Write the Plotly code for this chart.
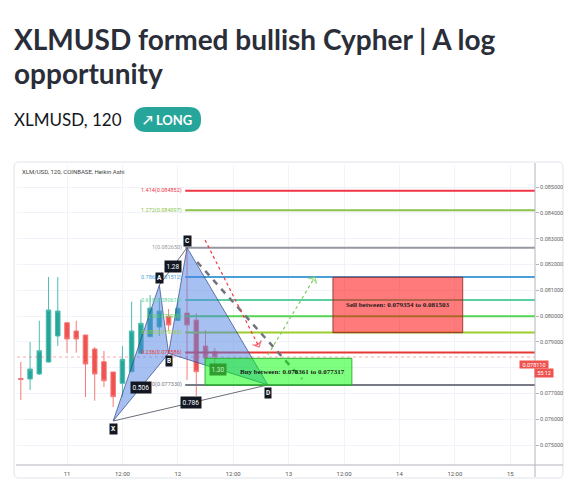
import plotly.graph_objects as go

W, H = 567, 494

# ---------------- data ----------------
candle_hours = [-10, -8, -6, -4, -2, 0, 2, 4, 6, 8, 10, 12, 14, 16, 18, 20, 22, 24, 26, 28, 30, 32]
opens = [0.077578, 0.077558, 0.077752, 0.078217, 0.079225, 0.079740, 0.079419, 0.079264, 0.078721, 0.078229, 0.077830,
         0.077391, 0.077841, 0.078554, 0.079198, 0.079574, 0.079981, 0.079826, 0.080116, 0.079845, 0.078837, 0.078616]
highs = [0.078217, 0.078992, 0.079818, 0.081512, 0.081512, 0.079767, 0.079818, 0.079264, 0.078798, 0.078643, 0.077830,
         0.078837, 0.080554, 0.080620, 0.080814, 0.080698, 0.080271, 0.080698, 0.082597, 0.080116, 0.079457, 0.078760]
lows = [0.076744, 0.077132, 0.077713, 0.078198, 0.078837, 0.078566, 0.078578, 0.076860, 0.076717, 0.077248, 0.076473,
        0.076872, 0.077841, 0.078554, 0.079198, 0.079225, 0.079419, 0.079826, 0.077520, 0.076899, 0.078178, 0.078101]
closes = [0.077539, 0.077946, 0.078655, 0.080233, 0.080194, 0.079109, 0.079109, 0.078140, 0.077752, 0.077492, 0.076872,
          0.078322, 0.079419, 0.079717, 0.080310, 0.080194, 0.079651, 0.080298, 0.079651, 0.077841, 0.078372, 0.078411]

x_tick_vals = [0, 12, 24, 36, 48, 60, 72, 84, 96]
x_tick_text = ["11", "12:00", "12", "12:00", "13", "12:00", "14", "12:00", "15"]
price_tick_vals = [0.075, 0.076, 0.077, 0.078, 0.079, 0.080, 0.081, 0.082, 0.083, 0.084, 0.085]
price_tick_text = ["0.075000", "0.076000", "0.077000", "", "0.079000", "0.080000", "0.081000",
                   "0.082000", "0.083000", "0.084000", "0.085000"]
x_range = [-10.83, 101.36]
y_range = [0.074225, 0.085853]

pattern_names = ["X", "A", "B", "C", "D"]
pattern_hours = [10.0, 20.0, 22.0, 26.0, 43.5]
pattern_prices = [0.07593, 0.08120, 0.07855, 0.08265, 0.07733]
ratio_labels = ["0.506", "1.28", "0.786", "1.30"]

fib_ratios = [1.414, 1.272, 1, 0.786, 0.618, 0.5, 0.382, 0.236, 0]
fib_prices = [0.084852, 0.084097, 0.082650, 0.081512, 0.080618, 0.079990, 0.079363, 0.078586, 0.077330]
fib_colors = ["#f23645", "#8bc34a", "#9598a1", "#4a9fd6", "#5ccfa0", "#55d455", "#9ccc2d", "#e53935", "#787b86"]
fib_start_hour = 25.6

buy_box_hours = [29.9, 61.7]
buy_box_prices = [0.077317, 0.078361]
sell_box_hours = [57.6, 85.7]
sell_box_prices = [0.079354, 0.081503]

red_arrow_hours = [29.9, 41.6]
red_arrow_prices = [0.082946, 0.078800]
gray_dash_hours = [28.2, 50.9]
gray_dash_prices = [0.082093, 0.077558]
green_arrow_hours = [43.5, 53.7]
green_arrow_prices = [0.078488, 0.081512]

current_price = 0.078110
countdown = "55:12"

# ---------------- helpers ----------------
def px(v):
    return v / W


def py(v):
    return 1 - v / H


def rrect(x0, y0, x1, y1, r):
    return (f"M{px(x0 + r)},{py(y0)} L{px(x1 - r)},{py(y0)} Q{px(x1)},{py(y0)} {px(x1)},{py(y0 + r)} "
            f"L{px(x1)},{py(y1 - r)} Q{px(x1)},{py(y1)} {px(x1 - r)},{py(y1)} L{px(x0 + r)},{py(y1)} "
            f"Q{px(x0)},{py(y1)} {px(x0)},{py(y1 - r)} L{px(x0)},{py(y0 + r)} Q{px(x0)},{py(y0)} {px(x0 + r)},{py(y0)} Z")


P = dict(zip(pattern_names, zip(pattern_hours, pattern_prices)))

fig = go.Figure()

# candles
fig.add_trace(go.Candlestick(
    x=candle_hours, open=opens, high=highs, low=lows, close=closes,
    increasing=dict(line=dict(color="#4fbcb0", width=1), fillcolor="#26a69a"),
    decreasing=dict(line=dict(color="#f57a78", width=1), fillcolor="#ef5350"),
    whiskerwidth=0, showlegend=False, hoverinfo="skip"))

# current price line (last close)
fig.add_trace(go.Scatter(x=x_range, y=[closes[-1], closes[-1]], mode="lines",
                         line=dict(color="rgba(242,54,69,0.28)", width=1.5, dash="dot"),
                         hoverinfo="skip", showlegend=False))

# fib lines
for r, p, c in zip(fib_ratios, fib_prices, fib_colors):
    fig.add_trace(go.Scatter(x=[fib_start_hour, x_range[1]], y=[p, p], mode="lines",
                             line=dict(color=c, width=2), hoverinfo="skip", showlegend=False))

# pattern triangles
tri_fill = "rgba(80,130,230,0.5)"
tri_line = "rgba(50,70,130,0.7)"
for a, b, c in [("X", "A", "B"), ("B", "C", "D")]:
    fig.add_trace(go.Scatter(x=[P[a][0], P[b][0], P[c][0], P[a][0]],
                             y=[P[a][1], P[b][1], P[c][1], P[a][1]],
                             mode="lines", fill="toself", fillcolor=tri_fill,
                             line=dict(color=tri_line, width=1), hoverinfo="skip", showlegend=False))
for a, b in [("A", "C"), ("X", "D")]:
    fig.add_trace(go.Scatter(x=[P[a][0], P[b][0]], y=[P[a][1], P[b][1]], mode="lines",
                             line=dict(color="#6a6d78", width=1), hoverinfo="skip", showlegend=False))

# dashed projections
fig.add_trace(go.Scatter(x=gray_dash_hours, y=gray_dash_prices, mode="lines",
                         line=dict(color="#70737e", width=2.5, dash="6px,6px"),
                         hoverinfo="skip", showlegend=False))
fig.add_trace(go.Scatter(x=red_arrow_hours, y=red_arrow_prices, mode="lines+markers",
                         line=dict(color="#f23645", width=1.2, dash="3px,3px"),
                         marker=dict(symbol=["circle", "arrow-wide-open"], size=[0, 7], angleref="previous",
                                     color="#f23645", line=dict(color="#f23645", width=1.2)),
                         hoverinfo="skip", showlegend=False))
fig.add_trace(go.Scatter(x=green_arrow_hours, y=green_arrow_prices, mode="lines+markers",
                         line=dict(color="#7ccd5a", width=1.2, dash="3px,3px"),
                         marker=dict(symbol=["circle", "arrow-wide-open"], size=[0, 7], angleref="previous",
                                     color="#7ccd5a", line=dict(color="#7ccd5a", width=1.2)),
                         hoverinfo="skip", showlegend=False))

shapes = []
# card border
shapes.append(dict(type="path", xref="paper", yref="paper", path=rrect(14, 162, 563, 478, 5),
                   line=dict(color="#e0e3eb", width=1), fillcolor="rgba(0,0,0,0)", layer="below"))
# axis lines
shapes.append(dict(type="line", xref="paper", yref="paper", x0=px(16), x1=px(563), y0=py(465), y1=py(465),
                   line=dict(color="#b2b5be", width=1)))
shapes.append(dict(type="line", xref="paper", yref="paper", x0=px(535), x1=px(535), y0=py(163), y1=py(477),
                   line=dict(color="#b2b5be", width=1)))
# trade boxes
shapes.append(dict(type="rect", xref="x", yref="y", x0=buy_box_hours[0], x1=buy_box_hours[1],
                   y0=buy_box_prices[0], y1=buy_box_prices[1], fillcolor="rgba(0,255,0,0.5)",
                   line=dict(color="rgba(40,170,40,0.9)", width=1), layer="above"))
shapes.append(dict(type="rect", xref="x", yref="y", x0=sell_box_hours[0], x1=sell_box_hours[1],
                   y0=sell_box_prices[0], y1=sell_box_prices[1], fillcolor="rgba(255,0,0,0.52)",
                   line=dict(color="rgba(150,50,50,0.9)", width=1), layer="above"))
# badge
shapes.append(dict(type="path", xref="paper", yref="paper", path=rrect(134, 107, 201, 132, 12),
                   fillcolor="#26a69a", line=dict(width=0)))

ann = []
# header texts
ann.append(dict(xref="paper", yref="paper", x=px(12), y=py(39), xanchor="left", yanchor="middle",
                text="<b>XLMUSD formed bullish Cypher | A log</b>", showarrow=False,
                font=dict(family="Lato", size=28, color="#2a2e39")))
ann.append(dict(xref="paper", yref="paper", x=px(12), y=py(73), xanchor="left", yanchor="middle",
                text="<b>opportunity</b>", showarrow=False,
                font=dict(family="Lato", size=28, color="#2a2e39")))
ann.append(dict(xref="paper", yref="paper", x=px(12), y=py(120), xanchor="left", yanchor="middle",
                text="XLMUSD, 120", showarrow=False,
                font=dict(family="Lato", size=17, color="#131722")))
ann.append(dict(xref="paper", yref="paper", x=px(167.5), y=py(120), xanchor="center", yanchor="middle",
                text="<b>↗ LONG</b>", showarrow=False,
                font=dict(family="Lato", size=13, color="white")))
ann.append(dict(xref="paper", yref="paper", x=px(20), y=py(172), xanchor="left", yanchor="middle",
                text="XLM/USD, 120, COINBASE, Heikin Ashi", showarrow=False,
                font=dict(family="Roboto", size=6, color="#444")))

# fib labels
for r, p, c in zip(fib_ratios, fib_prices, fib_colors):
    ann.append(dict(xref="x", yref="y", x=fib_start_hour, y=p, xanchor="right", yanchor="middle",
                    text=f"{r:g}({p:.6f})", showarrow=False, xshift=-1,
                    font=dict(family="Roboto", size=5.5, color=c)))

# pattern point labels
for n in pattern_names:
    below = n in ("X", "B", "D")
    ann.append(dict(xref="x", yref="y", x=P[n][0], y=P[n][1], text=f"<b>{n}</b>", showarrow=False,
                    yshift=-8 if below else 7, bgcolor="#131722", borderpad=1,
                    font=dict(family="Roboto", size=6.5, color="white")))

# ratio labels on pattern legs
legs = [("X", "B"), ("A", "C"), ("X", "D"), ("B", "D")]
for (a, b), t in zip(legs, ratio_labels):
    mx = (P[a][0] + P[b][0]) / 2
    my = (P[a][1] + P[b][1]) / 2
    on_box = (a, b) == ("B", "D")
    ann.append(dict(xref="x", yref="y", x=mx, y=my, text=t, showarrow=False,
                    bgcolor="#2f9e2f" if on_box else "#131722", borderpad=1.5,
                    font=dict(family="Roboto", size=6.5, color="#c6f5c6" if on_box else "white")))

# box texts
ann.append(dict(xref="x", yref="y", x=(buy_box_hours[0] + buy_box_hours[1]) / 2 + 3.0,
                y=sum(buy_box_prices) / 2, showarrow=False,
                text=f"<b>Buy between: {buy_box_prices[1]:.6f} to {buy_box_prices[0]:.6f}</b>",
                font=dict(family="Liberation Serif", size=7, color="#1b1b1b")))
ann.append(dict(xref="x", yref="y", x=sum(sell_box_hours) / 2, y=sum(sell_box_prices) / 2, showarrow=False,
                text=f"<b>Sell between: {sell_box_prices[0]:.6f} to {sell_box_prices[1]:.6f}</b>",
                font=dict(family="Liberation Serif", size=7, color="#1b1b1b")))

# current price label
ann.append(dict(xref="paper", yref="y", x=px(549), y=current_price, showarrow=False, width=28, height=7,
                bgcolor="#ef5350", text=f"{current_price:.6f}", borderpad=0,
                font=dict(family="Roboto", size=5.5, color="white")))
ann.append(dict(xref="paper", yref="y", x=px(554), y=current_price, showarrow=False, width=18, height=8,
                yshift=-8, bgcolor="#ef5350", text=countdown, borderpad=0,
                font=dict(family="Roboto", size=5.5, color="white")))

fig.update_layout(
    width=W, height=H, margin=dict(l=0, r=0, t=0, b=0, pad=0),
    paper_bgcolor="white", plot_bgcolor="white", showlegend=False,
    shapes=shapes, annotations=ann,
    xaxis=dict(domain=[17 / W, 535 / W], range=x_range, tickvals=x_tick_vals, ticktext=x_tick_text,
               showgrid=True, gridcolor="#f0f3fa", gridwidth=1, zeroline=False, showline=False,
               ticks="", ticklabelstandoff=4, tickfont=dict(family="Roboto", size=6, color="#555"),
               rangeslider=dict(visible=False), fixedrange=True),
    yaxis=dict(domain=[1 - 465 / H, 1 - 165 / H], range=y_range, side="right",
               tickvals=price_tick_vals, ticktext=price_tick_text,
               showgrid=True, gridcolor="#f0f3fa", gridwidth=1, zeroline=False, showline=False,
               ticks="outside", ticklen=3, tickcolor="#b2b5be",
               tickfont=dict(family="Roboto", size=5.5, color="#666"), fixedrange=True),
)

fig.write_html("out.html")
